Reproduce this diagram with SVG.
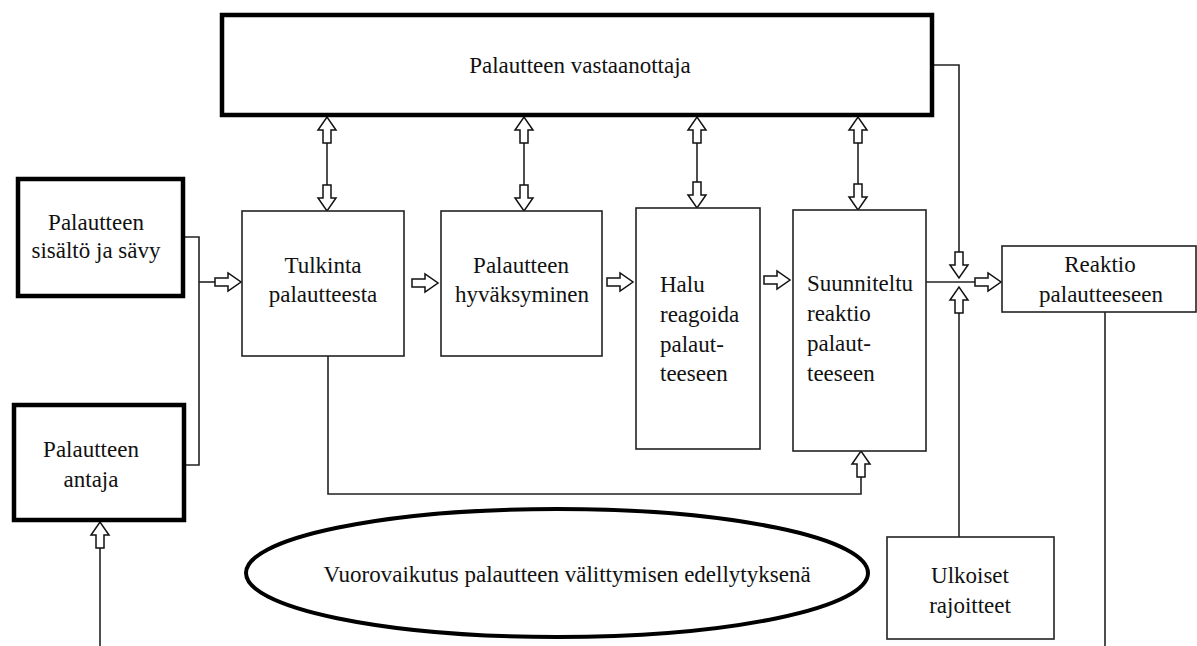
<svg xmlns="http://www.w3.org/2000/svg" xmlns:xlink="http://www.w3.org/1999/xlink" width="1197" height="646" viewBox="0 0 1197 646">
<style>
.bx{fill:#fff;stroke:#222;stroke-width:1.6}
.tk{fill:#fff;stroke:#000;stroke-width:4.5}
.ln{fill:none;stroke:#222;stroke-width:1.6}
.t{font-family:"Liberation Serif","Times New Roman",serif;font-size:23px;fill:#111}
.c{text-anchor:middle}
</style>
<defs>
<path id="ar" d="M-26,-4 H-13 V-9 L0,0 L-13,9 V4 H-26 Z" fill="#fff" stroke="#111" stroke-width="1.5"/>
</defs>
<rect width="1197" height="646" fill="#fff"/>

<g id="connectors">
<polyline class="ln" points="185,237 199,237 199,465 186,465"/>
<line class="ln" x1="199" y1="282" x2="215" y2="282"/>
<use xlink:href="#ar" href="#ar" transform="translate(241,282)"/>
<line class="ln" x1="100" y1="646" x2="100" y2="548"/>
<use xlink:href="#ar" href="#ar" transform="translate(100,522) rotate(-90)"/>

<line class="ln" x1="327" y1="143" x2="327" y2="185"/>
<use xlink:href="#ar" href="#ar" transform="translate(327,117) rotate(-90)"/>
<use xlink:href="#ar" href="#ar" transform="translate(327,211) rotate(90)"/>
<line class="ln" x1="524" y1="143" x2="524" y2="185"/>
<use xlink:href="#ar" href="#ar" transform="translate(524,117) rotate(-90)"/>
<use xlink:href="#ar" href="#ar" transform="translate(524,211) rotate(90)"/>
<line class="ln" x1="697" y1="143" x2="697" y2="182"/>
<use xlink:href="#ar" href="#ar" transform="translate(697,117) rotate(-90)"/>
<use xlink:href="#ar" href="#ar" transform="translate(697,208) rotate(90)"/>
<line class="ln" x1="858" y1="143" x2="858" y2="184"/>
<use xlink:href="#ar" href="#ar" transform="translate(858,117) rotate(-90)"/>
<use xlink:href="#ar" href="#ar" transform="translate(858,210) rotate(90)"/>

<use xlink:href="#ar" href="#ar" transform="translate(438,283)"/>
<use xlink:href="#ar" href="#ar" transform="translate(633,282)"/>
<use xlink:href="#ar" href="#ar" transform="translate(790,280)"/>

<polyline class="ln" points="934,65 959,65 959,253"/>
<use xlink:href="#ar" href="#ar" transform="translate(959,278) rotate(90)"/>
<line class="ln" x1="926" y1="282" x2="975" y2="282"/>
<use xlink:href="#ar" href="#ar" transform="translate(1001,282)"/>
<line class="ln" x1="959" y1="537" x2="959" y2="313"/>
<use xlink:href="#ar" href="#ar" transform="translate(959,287) rotate(-90)"/>
<line class="ln" x1="1105" y1="312" x2="1105" y2="646"/>

<polyline class="ln" points="328,356 328,494 861,494 861,477"/>
<use xlink:href="#ar" href="#ar" transform="translate(861,451) rotate(-90)"/>
</g>

<g id="vastaanottaja">
<rect class="tk" x="222" y="15" width="710" height="100"/>
<text class="t c" x="580" y="73">Palautteen vastaanottaja</text>
</g>
<g id="sisalto">
<rect class="tk" x="18" y="179" width="165" height="117"/>
<text class="t c" x="96" y="230">Palautteen</text>
<text class="t c" x="96" y="258">sisältö ja sävy</text>
</g>
<g id="antaja">
<rect class="tk" x="14" y="405" width="170" height="115"/>
<text class="t c" x="91" y="457">Palautteen</text>
<text class="t c" x="91" y="487">antaja</text>
</g>
<g id="tulkinta">
<rect class="bx" x="242" y="211" width="162" height="145"/>
<text class="t c" x="323" y="273">Tulkinta</text>
<text class="t c" x="323" y="302">palautteesta</text>
</g>
<g id="hyvaksyminen">
<rect class="bx" x="441" y="211" width="161" height="145"/>
<text class="t c" x="521" y="273">Palautteen</text>
<text class="t c" x="522" y="302">hyväksyminen</text>
</g>
<g id="halu">
<rect class="bx" x="636" y="208" width="124" height="241"/>
<text class="t" x="660" y="292">Halu</text>
<text class="t" x="660" y="322">reagoida</text>
<text class="t" x="660" y="352">palaut-</text>
<text class="t" x="660" y="381">teeseen</text>
</g>
<g id="suunniteltu">
<rect class="bx" x="793" y="210" width="133" height="241"/>
<text class="t" x="807" y="291">Suunniteltu</text>
<text class="t" x="807" y="321">reaktio</text>
<text class="t" x="807" y="351">palaut-</text>
<text class="t" x="807" y="381">teeseen</text>
</g>
<g id="reaktio">
<rect class="bx" x="1002" y="246" width="194" height="66"/>
<text class="t c" x="1100" y="272">Reaktio</text>
<text class="t c" x="1101" y="302">palautteeseen</text>
</g>
<g id="ulkoiset">
<rect class="bx" x="887" y="537" width="167" height="102"/>
<text class="t c" x="970" y="583">Ulkoiset</text>
<text class="t c" x="970" y="613">rajoitteet</text>
</g>
<g id="vuorovaikutus">
<ellipse cx="557" cy="573" rx="311" ry="64" fill="#fff" stroke="#000" stroke-width="4"/>
<text class="t c" x="567" y="582">Vuorovaikutus palautteen välittymisen edellytyksenä</text>
</g>
</svg>
